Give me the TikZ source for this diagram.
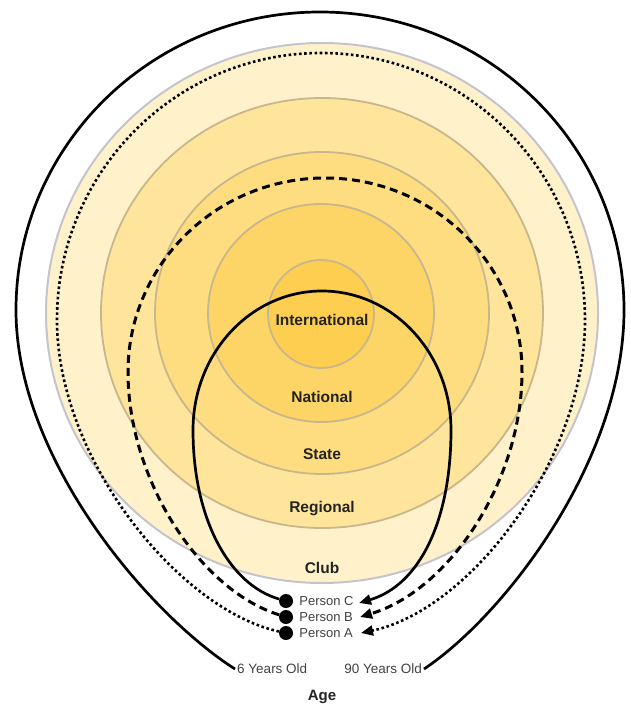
\documentclass[tikz,border=0pt]{standalone}
\usepackage{fontspec}
\setmainfont{Liberation Sans}
\usetikzlibrary{arrows.meta,positioning}

\definecolor{clubfill}{RGB}{255,241,202}
\definecolor{regionalfill}{RGB}{254,229,155}
\definecolor{statefill}{RGB}{254,221,128}
\definecolor{nationalfill}{RGB}{253,213,102}
\definecolor{intlfill}{RGB}{253,206,80}
\definecolor{clubline}{RGB}{196,196,204}
\definecolor{ringline}{RGB}{200,182,140}
\definecolor{labeltext}{RGB}{35,35,35}
\definecolor{persontext}{RGB}{65,65,65}

\tikzset{
  ring/.style={draw=ringline, line width=1.8pt},
  level/.style={font=\fontsize{15.5}{17}\selectfont\bfseries, text=labeltext},
  person/.style={font=\fontsize{13}{15}\selectfont, text=persontext, inner sep=1pt},
  agelabel/.style={font=\fontsize{13.5}{15}\selectfont, text=persontext, inner sep=2pt},
  dot/.style={circle, fill=black, inner sep=0pt, minimum size=14pt},
  tip/.style={-{Triangle[length=12pt,width=10pt]}},
  lifeline/.style={line width=2.7pt},
  dotline/.style={line width=2.6pt, dash pattern=on 2.6pt off 2.6pt},
  dashline/.style={line width=3pt, dash pattern=on 8pt off 5pt},
}

\begin{document}
\begin{tikzpicture}[x=1pt,y=-1pt]
  \useasboundingbox (0,0) rectangle (630,706);

  % levels
  \draw[fill=clubfill, draw=clubline, line width=2pt] (322,313) ellipse[x radius=276, y radius=270];
  \draw[ring, fill=regionalfill] (322,313) ellipse[x radius=221, y radius=215];
  \draw[ring, fill=statefill] (322,313) ellipse[x radius=167, y radius=161];
  \draw[ring, fill=nationalfill] (321,313) ellipse[x radius=113, y radius=109];
  \draw[ring, fill=intlfill] (321,314) ellipse[x radius=53, y radius=54];

  \node[level] (intl) at (322,320) {International};
  \node[level] (national) at (322,397) {National};
  \node[level] (state) at (322,454) {State};
  \node[level] (regional) at (322,509) {Regional};
  \node[level] (club) at (322,568) {Club};

  % people
  \node[dot] (dotC) at (286,601) {};
  \node[dot] (dotB) at (286,617) {};
  \node[dot] (dotA) at (286,633) {};
  \node[person, right=5pt of dotC] (personC) {Person C};
  \node[person, right=5pt of dotB] (personB) {Person B};
  \node[person, right=5pt of dotA] (personA) {Person A};
  \coordinate (tipC) at (359,603);
  \coordinate (tipB) at (360,617);
  \coordinate (tipA) at (361,633);

  % age
  \node[agelabel, anchor=west] (young) at (235,669) {6 Years Old};
  \node[agelabel, anchor=east] (old) at (424,669) {90 Years Old};
  \node[level, font=\fontsize{15}{17}\selectfont\bfseries] (age) at (322,697) {Age};

  \draw[lifeline] (young.west) .. controls (150,615) and (16,460) .. (16,310)
    arc[start angle=180, end angle=360, x radius=304, y radius=298]
    .. controls (624,460) and (505,615) .. (old.east);

  \draw[dotline, tip] (dotA) .. controls (180,610) and (57,460) .. (57,320)
    arc[start angle=180, end angle=360, x radius=264, y radius=267]
    .. controls (585,460) and (470,610) .. (tipA);

  \draw[dashline, tip] (dotB) .. controls (200,590) and (128,480) .. (128,372)
    arc[start angle=180, end angle=360, x radius=197, y radius=194]
    .. controls (522,480) and (450,590) .. (tipB);

  \draw[lifeline, tip] (dotC) .. controls (230,585) and (193,520) .. (193,430)
    arc[start angle=180, end angle=360, x radius=129, y radius=139]
    .. controls (451,520) and (420,585) .. (tipC);
\end{tikzpicture}
\end{document}
